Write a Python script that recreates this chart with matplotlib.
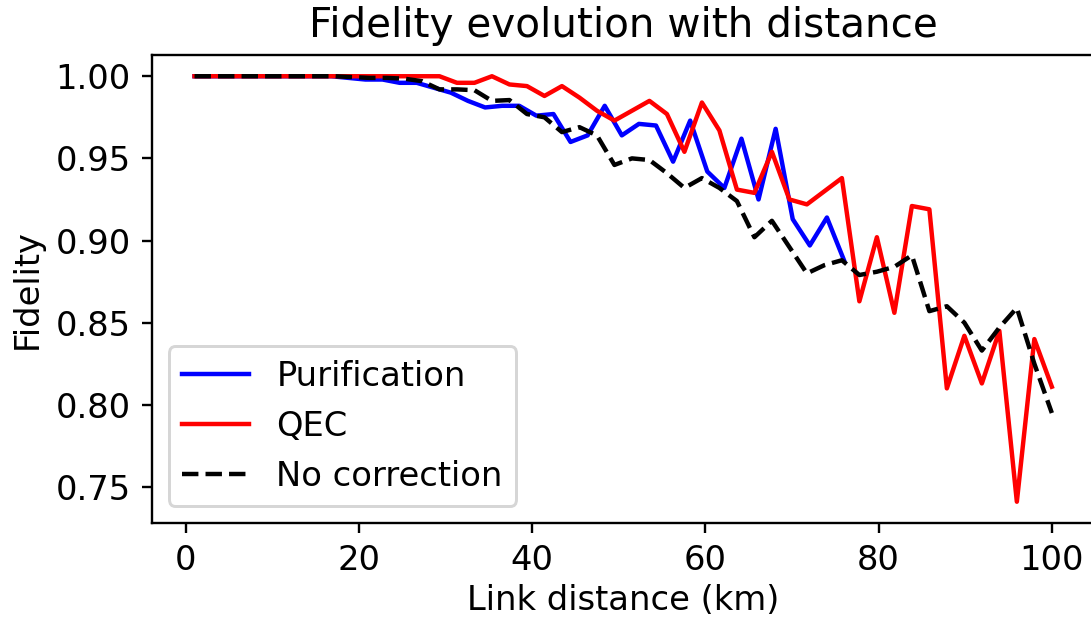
import numpy as np
import matplotlib
matplotlib.use("Agg")
import matplotlib.pyplot as plt

# distances (km)
dist_main = np.linspace(1, 100, 50)
dist_pur = np.linspace(1, 76, 39)

purification = [
    1.000, 1.000, 1.000, 1.000, 1.000, 1.000, 1.000, 1.000, 1.000, 0.999,
    0.998, 0.998, 0.996, 0.996, 0.993, 0.990, 0.985, 0.981, 0.982, 0.982,
    0.976, 0.977, 0.960, 0.964, 0.982, 0.964, 0.971, 0.970, 0.948, 0.973,
    0.942, 0.932, 0.962, 0.925, 0.968, 0.913, 0.897, 0.914, 0.888,
]

qec = [
    1.000, 1.000, 1.000, 1.000, 1.000, 1.000, 1.000, 1.000, 1.000, 1.000,
    1.000, 1.000, 1.000, 1.000, 1.000, 0.996, 0.996, 1.000, 0.995, 0.994,
    0.988, 0.994, 0.987, 0.979, 0.973, 0.979, 0.985, 0.977, 0.954, 0.984,
    0.967, 0.931, 0.929, 0.954, 0.925, 0.922, 0.930, 0.938, 0.863, 0.902,
    0.856, 0.921, 0.919, 0.810, 0.842, 0.813, 0.845, 0.741, 0.840, 0.811,
]

no_corr = [
    1.000, 1.000, 1.000, 1.000, 1.000, 1.000, 1.000, 1.000, 1.000, 0.9995,
    0.999, 0.999, 0.9985, 0.997, 0.992, 0.992, 0.9915, 0.985, 0.9855, 0.977,
    0.975, 0.966, 0.969, 0.964, 0.946, 0.950, 0.949, 0.941, 0.932, 0.938,
    0.932, 0.924, 0.902, 0.912, 0.896, 0.880, 0.885, 0.888, 0.879, 0.881,
    0.884, 0.891, 0.857, 0.860, 0.850, 0.833, 0.847, 0.859, 0.825, 0.795,
]

plt.rcParams['font.size'] = 11.4

fig = plt.figure(figsize=(1091 / 213, 619 / 213), dpi=213)
ax = fig.add_axes([0.1390, 0.1551, 0.8644, 0.7561])

ax.plot(dist_pur, purification, color='blue', label='Purification')
ax.plot(dist_main, qec, color='red', label='QEC')
ax.plot(dist_main, no_corr, 'k--', label='No correction')

ax.set_xlabel('Link distance (km)', labelpad=2.5)
ax.set_ylabel('Fidelity')
ax.set_title('Fidelity evolution with distance')
ax.legend(loc='lower left')

fig.savefig('out.png', dpi=213)
